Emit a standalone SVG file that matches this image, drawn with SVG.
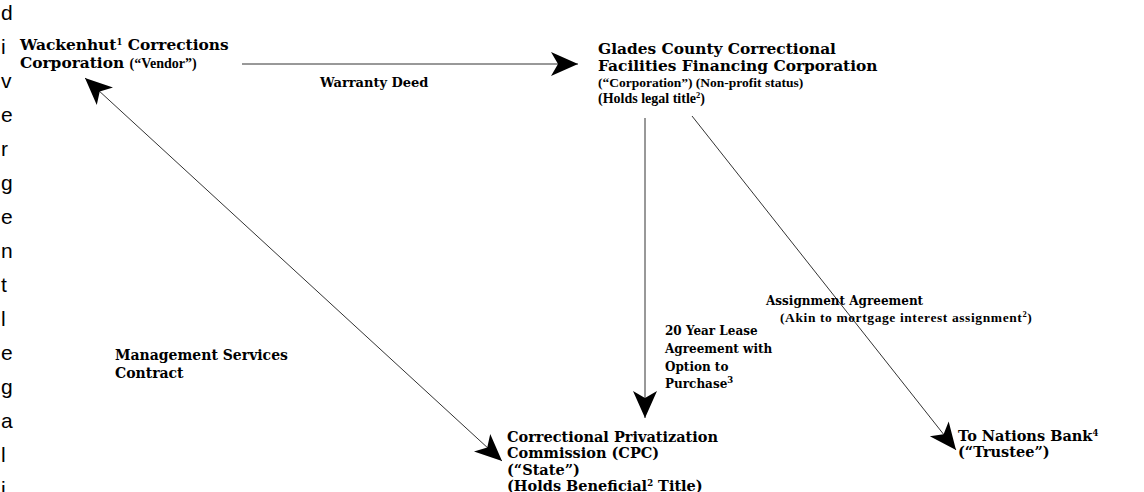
<svg xmlns="http://www.w3.org/2000/svg" width="1144" height="492" viewBox="0 0 1144 492">
  <style>
    .side { font-family: "Liberation Sans", Arial, sans-serif; font-size: 21px; fill: #000; }
    .main { font-family: "DejaVu Serif", "Liberation Serif", serif; font-weight: bold; font-size: 14.5px; fill: #000; }
    .big { font-size: 15.4px; }
    .lbl { font-family: "DejaVu Serif", "Liberation Serif", serif; font-weight: bold; font-size: 13px; fill: #000; }
    .lbl2 { font-size: 12px; }
    .lbl3 { font-size: 14px; }
    .small { font-family: "Liberation Serif", "Times New Roman", serif; font-weight: bold; font-size: 13.5px; fill: #000; }
    .small14 { font-size: 14px; }
    .sup { font-size: 8.5px; }
    .conn { stroke: #333; stroke-width: 1; fill: none; }
  </style>
  <defs>
    <marker id="ah" viewBox="-28 -13 30 26" refX="0" refY="0" markerWidth="30" markerHeight="26" markerUnits="userSpaceOnUse" orient="auto-start-reverse">
      <path d="M0,0 L-27,-12 L-20,0 L-27,12 Z" fill="#000"/>
    </marker>
  </defs>
  <rect width="1144" height="492" fill="#fff"/>

  <g id="side-text">
    <text class="side">
      <tspan x="1" y="20">d</tspan>
      <tspan x="1" y="54">i</tspan>
      <tspan x="1" y="88">v</tspan>
      <tspan x="1" y="122">e</tspan>
      <tspan x="1" y="156">r</tspan>
      <tspan x="1" y="190">g</tspan>
      <tspan x="1" y="224">e</tspan>
      <tspan x="1" y="258">n</tspan>
      <tspan x="1" y="292">t</tspan>
      <tspan x="1" y="326">l</tspan>
      <tspan x="1" y="360">e</tspan>
      <tspan x="1" y="394">g</tspan>
      <tspan x="1" y="428">a</tspan>
      <tspan x="1" y="462">l</tspan>
      <tspan x="1" y="496">i</tspan>
    </text>
  </g>

  <g id="connectors">
    <line class="conn" x1="242" y1="64" x2="578" y2="64" marker-end="url(#ah)"/>
    <line class="conn" x1="645" y1="118" x2="645" y2="418" marker-end="url(#ah)"/>
    <line class="conn" x1="692" y1="116" x2="956" y2="450" marker-end="url(#ah)"/>
    <line class="conn" x1="85" y1="78" x2="502" y2="461" marker-start="url(#ah)" marker-end="url(#ah)"/>
  </g>

  <g id="node-vendor">
    <text class="main big" x="20" y="50">Wackenhut<tspan class="sup" dy="-5">1</tspan><tspan dy="5"> Corrections</tspan></text>
    <text class="main big" x="20" y="68">Corporation <tspan class="small small14">(“Vendor”)</tspan></text>
  </g>

  <g id="node-corporation">
    <text class="main big" x="598" y="54">Glades County Correctional</text>
    <text class="main big" x="598" y="71">Facilities Financing Corporation</text>
    <text class="small" x="598" y="87">(“Corporation”) (Non-profit status)</text>
    <text class="small small14" x="598" y="103">(Holds legal title<tspan class="sup" dy="-5">2</tspan><tspan dy="5">)</tspan></text>
  </g>

  <g id="node-state">
    <text class="main" x="507" y="442">Correctional Privatization</text>
    <text class="main" x="507" y="458">Commission (CPC)</text>
    <text class="main" x="507" y="475">(“State”)</text>
    <text class="main" x="507" y="491">(Holds Beneficial<tspan class="sup" dy="-5">2</tspan><tspan dy="5"> Title)</tspan></text>
  </g>

  <g id="node-bank">
    <text class="main" x="958" y="441">To Nations Bank<tspan class="sup" dy="-5">4</tspan></text>
    <text class="main" x="958" y="457">(“Trustee”)</text>
  </g>

  <g id="label-warranty">
    <text class="lbl" x="320" y="87">Warranty Deed</text>
  </g>
  <g id="label-lease">
    <text class="lbl lbl2" x="665" y="335">20 Year Lease</text>
    <text class="lbl lbl2" x="665" y="353">Agreement with</text>
    <text class="lbl lbl2" x="665" y="371">Option to</text>
    <text class="lbl lbl2" x="665" y="388">Purchase<tspan class="sup" dy="-5">3</tspan></text>
  </g>
  <g id="label-assignment">
    <text class="lbl lbl2" x="766" y="305">Assignment Agreement</text>
    <text class="small" x="780" y="322" letter-spacing="0.6">(Akin to mortgage interest assignment<tspan class="sup" dy="-5">2</tspan><tspan dy="5">)</tspan></text>
  </g>
  <g id="label-management">
    <text class="lbl lbl3" x="115" y="360">Management Services</text>
    <text class="lbl lbl3" x="115" y="378">Contract</text>
  </g>
</svg>
